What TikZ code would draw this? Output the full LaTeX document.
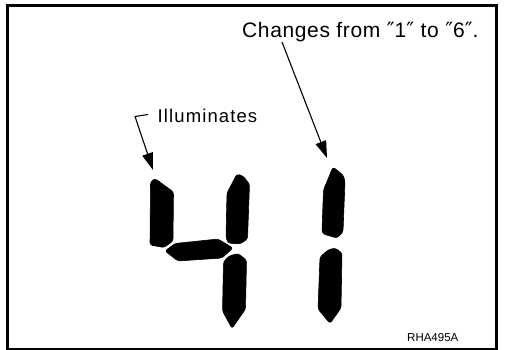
\documentclass[tikz,border=0pt]{standalone}
\usepackage{fontspec}
\setmainfont{Liberation Sans}
\newfontfamily\labfont[LetterSpace=3]{Liberation Sans}
\newfontfamily\illfont[LetterSpace=6]{Liberation Sans}
\newfontfamily\qfont{DejaVu Sans}
\usetikzlibrary{arrows.meta}
\tikzset{
  seg/.style={fill=black, draw=black, line width=0.6pt, rounded corners=2.5pt},
  lab/.style={inner sep=0pt, anchor=base west, font=\labfont\fontsize{21}{25}\selectfont},
  ptr/.style={line width=1.1pt, -{Triangle[length=17pt,width=11pt]}},
  frame/.style={line width=3pt}
}
\begin{document}
\begin{tikzpicture}[x=1pt,y=-1pt]
\useasboundingbox (0,0) rectangle (505,350);
\draw[frame] (7.5,5.5) rectangle (496.5,349);
% digit 4
\path[seg] (150.5,182) -- (155,178.5) -- (173.5,192) -- (173,241) -- (164,247.5) -- (150,245) -- cycle;
\path[seg] (237,174) -- (243,176) -- (249.5,184) -- (247.5,239) -- (240,244) -- (228,243) -- (226,237) -- (227,193) -- cycle;
\path[seg] (165,251) -- (175,243.5) -- (218,239) -- (233,248) -- (222,258) -- (178,261) -- cycle;
\path[seg] (238,253.5) -- (246.5,260) -- (245.5,309) -- (232,328.5) -- (222.5,311) -- (223.5,262) -- (229,256) -- cycle;
% digit 1
\path[seg] (333,167) -- (343,175) -- (345,181) -- (343,232) -- (337,238) -- (323,234) -- (322,230) -- (323.5,190) -- cycle;
\path[seg] (335,248) -- (342,253) -- (341,308) -- (330,323.5) -- (318,309) -- (320,257) -- (328,250) -- cycle;
% labels
\node[lab] (chg) at (242,38) {Changes from {\qfont″}1{\qfont″} to {\qfont″}6{\qfont″}.};
\node[lab, font=\illfont\fontsize{18.5}{22}\selectfont] (ill) at (157.5,122.5) {Illuminates};
\node[inner sep=0pt, anchor=base west, font=\fontsize{11.5}{14}\selectfont] (code) at (407,341.7) {RHA495A};
% pointers
\coordinate (illstart) at (148,114.5);
\coordinate (illbend) at (135,116.5);
\coordinate (illtip) at (153,170);
\coordinate (chgstart) at (282,42);
\coordinate (chgtip) at (327,158);
\draw[ptr] (illstart) -- (illbend) -- (illtip);
\draw[ptr] (chgstart) -- (chgtip);
\end{tikzpicture}
\end{document}
